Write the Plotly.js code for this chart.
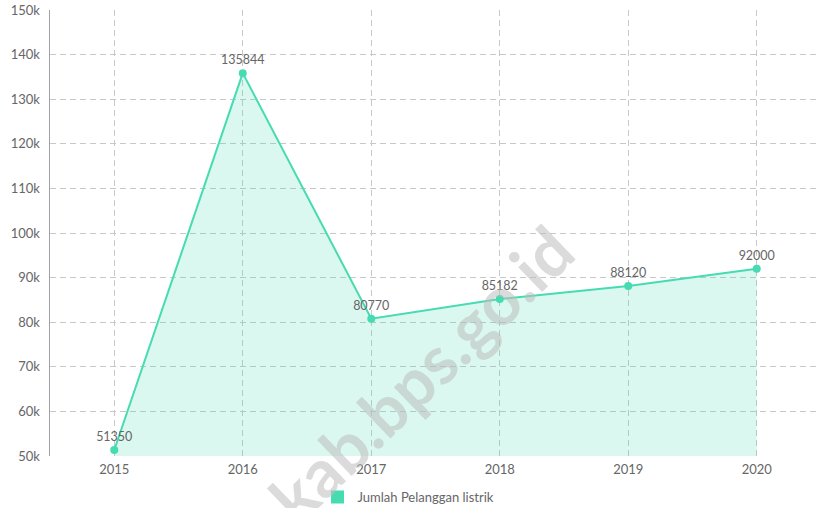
<!DOCTYPE html>
<html>
<head>
<meta charset="utf-8">
<script src="https://cdn.plot.ly/plotly-3.0.1.min.js"></script>
<style>
html,body{margin:0;padding:0;overflow:hidden;background:#fff;}
#chart{width:821px;height:508px;}
</style>
</head>
<body>
<div id="chart"></div>
<script>
const years = ['2015','2016','2017','2018','2019','2020'];
const pelanggan = [51350, 135844, 80770, 85182, 88120, 92000];
const seriesName = 'Jumlah Pelanggan listrik';
const yTickVals = [50000,60000,70000,80000,90000,100000,110000,120000,130000,140000,150000];

const lineColor = '#46dbb1';
const main = {
  x: years, y: pelanggan, type: 'scatter', mode: 'lines+markers+text',
  text: pelanggan.map(String), textposition: 'top center',
  textfont: {family: 'Lato', size: 12.5, color: '#666'},
  line: {color: lineColor, width: 2},
  marker: {color: lineColor, size: 8},
  fill: 'tozeroy', fillcolor: 'rgba(70,219,177,0.2)',
  showlegend: false, cliponaxis: false, hoverinfo: 'skip'
};
const legendTrace = {
  x: [null], y: [null], type: 'scatter', mode: 'markers', name: seriesName,
  marker: {color: lineColor, symbol: 'square', size: 13}, showlegend: true
};

const layout = {
  width: 821, height: 508,
  margin: {l: 50, r: 0, t: 10, b: 52, autoexpand: false},
  paper_bgcolor: '#fff', plot_bgcolor: '#fff',
  font: {family: 'Lato', color: '#666', size: 13},
  xaxis: {
    type: 'category', range: [-0.5, 5.5], showgrid: true,
    gridcolor: '#c8c8c8', griddash: '6px,4px', gridwidth: 1,
    showline: false, zeroline: false, ticks: '', ticklabelstandoff: 4,
    tickfont: {family: 'Lato', size: 13, color: '#666'}
  },
  yaxis: {
    range: [50000, 150000], tickvals: yTickVals,
    ticktext: yTickVals.map(v => (v/1000) + 'k'),
    showgrid: true, gridcolor: '#c8c8c8', griddash: '6px,4px', gridwidth: 1,
    showline: true, linecolor: '#a0a0a8', linewidth: 1.5,
    zeroline: false, ticks: '', ticklabelstandoff: 6,
    tickfont: {family: 'Lato', size: 13, color: '#666'}
  },
  showlegend: true,
  legend: {orientation: 'h', x: 0.347, xanchor: 'left', y: -0.092, yanchor: 'middle',
    font: {family: 'Lato', size: 13, color: '#666'}},
  annotations: [{
    xref: 'paper', yref: 'paper', x: 0.481, y: 0.185, xanchor: 'center', yanchor: 'middle',
    text: '<b>kab.bps.go.id</b>', showarrow: false, textangle: -44,
    font: {family: 'Lato', size: 67, color: 'rgba(190,190,190,0.55)'}
  }]
};

Plotly.newPlot('chart', [main, legendTrace], layout, {displayModeBar: false, staticPlot: true});
</script>
</body>
</html>
